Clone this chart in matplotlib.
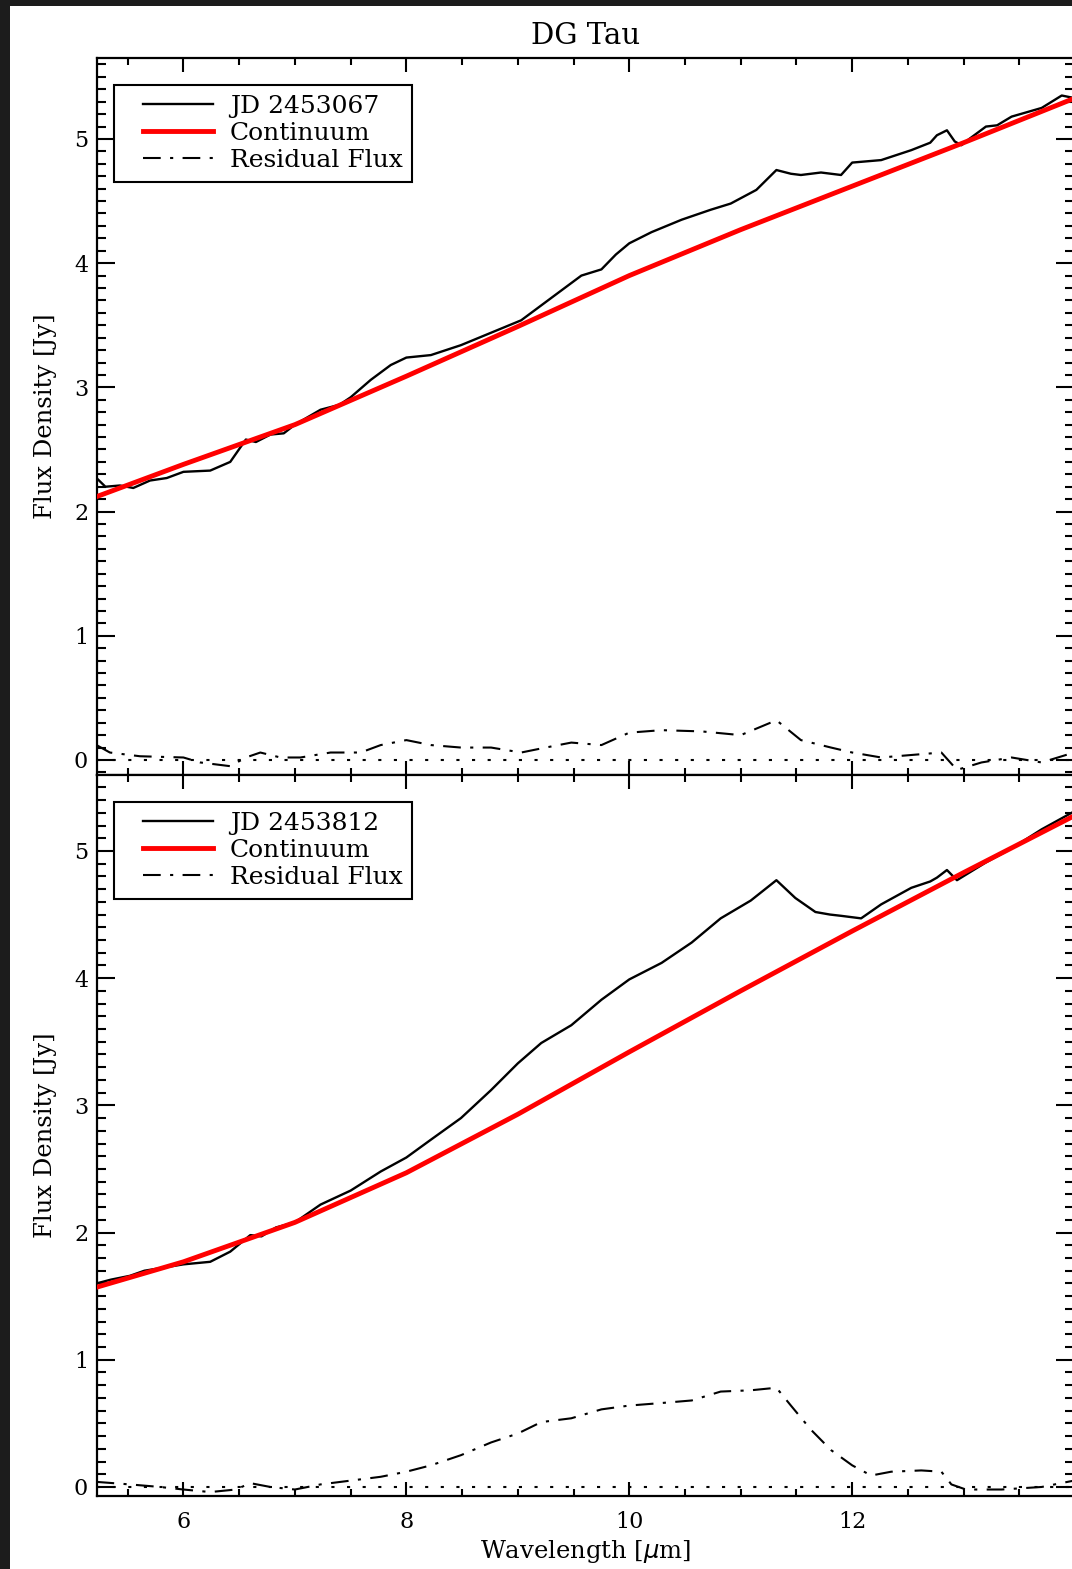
"""
DG Tau mid-IR spectra at two epochs with continuum fit and residual flux.
"""

import matplotlib
matplotlib.use("Agg")
import matplotlib.pyplot as plt
from matplotlib.lines import Line2D
from matplotlib.legend_handler import HandlerLine2D
from matplotlib.patches import Rectangle
from matplotlib.ticker import MultipleLocator

# ---- epoch 1: JD 2453067 ----
wave_obs_1 = [5.22, 5.30, 5.43, 5.55, 5.70, 5.85, 6.00, 6.24, 6.42, 6.56, 6.65, 6.78,
              6.90, 7.00, 7.23, 7.40, 7.50, 7.68, 7.86, 8.00, 8.22, 8.49, 8.76,
              9.03, 9.21, 9.39, 9.57, 9.75, 9.88, 10.00, 10.20, 10.47, 10.73,
              10.91, 11.14, 11.32, 11.45, 11.54, 11.72, 11.90, 12.00, 12.26,
              12.53, 12.70, 12.76, 12.85, 12.92, 12.98, 13.05, 13.20, 13.30,
              13.43, 13.70, 13.88, 13.99]
flux_obs_1 = [2.27, 2.20, 2.21, 2.19, 2.25, 2.27, 2.32, 2.33, 2.40, 2.58, 2.56, 2.62,
              2.63, 2.70, 2.82, 2.86, 2.92, 3.06, 3.18, 3.24, 3.26, 3.34, 3.44,
              3.54, 3.66, 3.78, 3.90, 3.95, 4.07, 4.16, 4.25, 4.35, 4.43,
              4.48, 4.59, 4.75, 4.72, 4.71, 4.73, 4.71, 4.81, 4.83,
              4.91, 4.97, 5.03, 5.07, 4.98, 4.95, 5.00, 5.10, 5.11,
              5.18, 5.25, 5.35, 5.33]
wave_cont_1 = [5.22, 6.0, 7.0, 8.0, 9.0, 10.0, 11.0, 12.0, 13.0, 14.0]
flux_cont_1 = [2.12, 2.38, 2.70, 3.09, 3.49, 3.90, 4.27, 4.62, 4.97, 5.33]
wave_res_1 = [5.22, 5.34, 5.61, 6.00, 6.15, 6.42, 6.56, 6.69, 6.87, 7.05, 7.32,
              7.59, 7.77, 8.00, 8.22, 8.49, 8.76, 9.03, 9.25, 9.48, 9.75,
              10.00, 10.29, 10.65, 11.00, 11.32, 11.54, 11.81, 12.00, 12.26,
              12.53, 12.80, 12.94, 13.16, 13.43, 13.70, 13.99]
flux_res_1 = [0.12, 0.06, 0.03, 0.02, -0.02, -0.05, 0.02, 0.06, 0.02, 0.02, 0.06,
              0.06, 0.12, 0.16, 0.12, 0.10, 0.10, 0.06, 0.10, 0.14, 0.12,
              0.22, 0.24, 0.23, 0.20, 0.32, 0.16, 0.10, 0.06, 0.02,
              0.04, 0.06, -0.08, -0.02, 0.02, -0.02, 0.06]

# ---- epoch 2: JD 2453812 ----
wave_obs_2 = [5.22, 5.35, 5.52, 5.65, 5.79, 6.00, 6.24, 6.42, 6.60, 6.70, 6.83,
              7.00, 7.23, 7.50, 7.77, 8.00, 8.22, 8.49, 8.76, 9.00, 9.21, 9.48,
              9.75, 10.00, 10.29, 10.56, 10.82, 11.09, 11.32, 11.49, 11.67,
              11.80, 11.90, 12.08, 12.26, 12.53, 12.70, 12.76, 12.85, 12.94,
              13.20, 13.43, 13.70, 13.99]
flux_obs_2 = [1.60, 1.63, 1.66, 1.70, 1.72, 1.75, 1.77, 1.85, 1.98, 1.97, 2.04,
              2.08, 2.22, 2.33, 2.48, 2.59, 2.73, 2.90, 3.12, 3.33, 3.49, 3.63,
              3.83, 3.99, 4.12, 4.28, 4.47, 4.61, 4.77, 4.63, 4.52,
              4.50, 4.49, 4.47, 4.58, 4.71, 4.76, 4.79, 4.85, 4.77,
              4.91, 5.02, 5.17, 5.31]
wave_cont_2 = [5.22, 6.0, 7.0, 8.0, 9.0, 10.0, 11.0, 12.0, 13.0, 14.0]
flux_cont_2 = [1.57, 1.77, 2.08, 2.47, 2.93, 3.42, 3.90, 4.37, 4.83, 5.28]
wave_res_2 = [5.22, 5.52, 5.79, 6.00, 6.24, 6.47, 6.60, 6.78, 7.00, 7.23, 7.50,
              7.77, 8.00, 8.22, 8.49, 8.76, 9.00, 9.21, 9.48, 9.75, 10.00,
              10.29, 10.56, 10.82, 11.09, 11.32, 11.45, 11.63, 11.81, 12.00,
              12.17, 12.35, 12.62, 12.80, 12.89, 13.02, 13.34, 13.70, 13.99]
flux_res_2 = [0.04, 0.02, 0.00, -0.02, -0.04, -0.02, 0.03, 0.00, -0.02, 0.02, 0.05,
              0.08, 0.12, 0.17, 0.25, 0.35, 0.42, 0.51, 0.54, 0.61, 0.64,
              0.66, 0.68, 0.75, 0.76, 0.78, 0.64, 0.45, 0.29, 0.17,
              0.09, 0.12, 0.13, 0.12, 0.02, -0.02, -0.02, 0.00, 0.05]

epochs = ["JD 2453067", "JD 2453812"]
title = "DG Tau"

FONT = "DejaVu Serif"
W, H = 1072, 1569

fig = plt.figure(figsize=(W / 100, H / 100), dpi=100, facecolor="white")
# dark frame strips (left and top) seen around the screenshot
for rect in [(0, 0, 10 / W, 1), (0, 1 - 6 / H, 1, 6 / H)]:
    fig.patches.append(Rectangle(rect[:2], rect[2], rect[3], transform=fig.transFigure,
                                 facecolor="#1c1c1c", edgecolor="none", zorder=-10))

left, right = 96.5 / W, 1074 / W
ax_top = fig.add_axes([left, (H - 775) / H, right - left, 717 / H])
ax_bot = fig.add_axes([left, (H - 1496) / H, right - left, 721 / H])

panels = [
    (ax_top, wave_obs_1, flux_obs_1, wave_cont_1, flux_cont_1, wave_res_1, flux_res_1,
     (-0.121, 5.652)),
    (ax_bot, wave_obs_2, flux_obs_2, wave_cont_2, flux_cont_2, wave_res_2, flux_res_2,
     (-0.071, 5.597)),
]

for i, (ax, wo, fo, wc, fc, wr, fr, ylim) in enumerate(panels):
    ax.plot(wo, fo, color="black", lw=1.7, label=epochs[i], zorder=3)
    ax.plot(wc, fc, color="#ff0000", lw=3.5, label="Continuum", zorder=4)
    ax.plot(wr, fr, color="black", lw=1.5, dashes=(8.5, 4.5, 1.5, 4.5),
            label="Residual Flux", zorder=3)
    ax.axhline(0, color="black", lw=1.5, dashes=(1.5, 6), zorder=2)

    ax.set_xlim(5.22, 13.99)
    ax.set_ylim(*ylim)
    ax.xaxis.set_major_locator(MultipleLocator(2))
    ax.xaxis.set_minor_locator(MultipleLocator(0.5))
    ax.yaxis.set_major_locator(MultipleLocator(1))
    ax.yaxis.set_minor_locator(MultipleLocator(0.1))
    ax.tick_params(which="both", direction="in", top=True, right=True, width=1.5)
    ax.tick_params(axis="x", which="major", length=10, pad=11)
    ax.tick_params(axis="x", which="minor", length=5)
    ax.tick_params(axis="y", which="major", length=13, pad=6)
    ax.tick_params(axis="y", which="minor", length=6.5)
    for lab in ax.get_xticklabels() + ax.get_yticklabels():
        lab.set_fontfamily(FONT)
        lab.set_fontsize(16)
    for sp in ax.spines.values():
        sp.set_linewidth(1.6)

    ax.set_ylabel("Flux Density [Jy]", fontsize=17.5, family=FONT)
    ax.yaxis.set_label_coords(-0.040, 0.5)

    leg = ax.legend(loc="upper left", bbox_to_anchor=(17 / 977, 1 - 27 / 717),
                    borderaxespad=0, fancybox=False, framealpha=1,
                    edgecolor="black", handlelength=3.6, handletextpad=0.68,
                    labelspacing=0.17, borderpad=0.38,
                    handler_map={Line2D: HandlerLine2D(xpad=0.8)},
                    prop={"family": FONT, "size": 18})
    leg.get_frame().set_linewidth(1.5)

ax_top.tick_params(axis="x", labelbottom=False)
ax_top.set_title(title, fontsize=21, family=FONT, pad=10)
ax_bot.set_xlabel("Wavelength [$\\mu$m]", fontsize=17.5, family=FONT)
ax_bot.xaxis.set_label_coords(0.5, -0.058)

fig.savefig("out.png", dpi=100, facecolor=fig.get_facecolor())
